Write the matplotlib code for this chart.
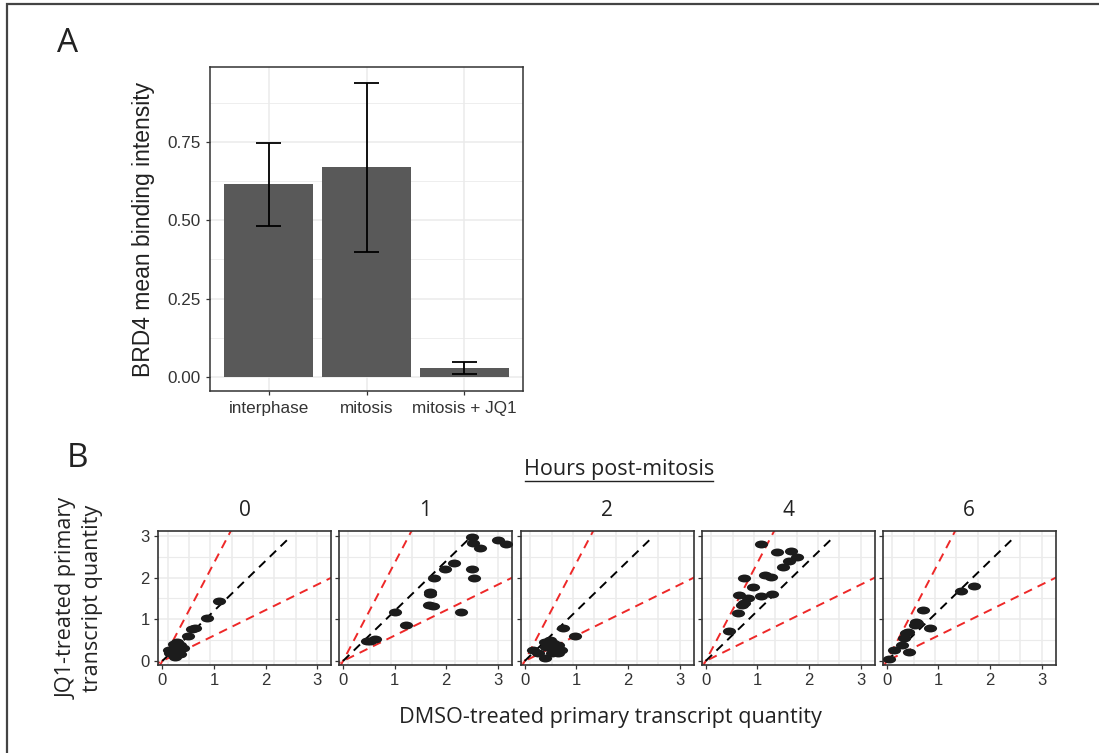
import numpy as np
import matplotlib
matplotlib.use("Agg")
import matplotlib.pyplot as plt
from matplotlib.path import Path
from matplotlib.lines import Line2D
from matplotlib.patches import Rectangle

# ---------------- data ----------------
# Panel A
conditions = ["interphase", "mitosis", "mitosis + JQ1"]
brd4_mean = [0.617, 0.670, 0.027]
brd4_low = [0.483, 0.400, 0.009]
brd4_high = [0.747, 0.941, 0.046]
a_yticks = [0.00, 0.25, 0.50, 0.75]

# Panel B: DMSO (x) vs JQ1 (y) per hour post-mitosis
hours = ["0", "1", "2", "4", "6"]
dmso_h0 = [1.09, 0.87, 0.64, 0.57, 0.50, 0.34, 0.25, 0.18, 0.15, 0.34, 0.25, 0.28, 0.12, 0.22, 0.40]
jq1_h0 = [1.44, 1.03, 0.78, 0.76, 0.60, 0.38, 0.34, 0.26, 0.18, 0.17, 0.10, 0.46, 0.26, 0.40, 0.30]
dmso_h1 = [2.50, 2.51, 2.66, 3.00, 3.16, 2.16, 1.98, 2.50, 2.53, 1.77, 1.69, 1.69, 1.66, 1.75, 2.29, 1.00, 1.22, 0.52, 0.62, 0.47]
jq1_h1 = [2.98, 2.82, 2.70, 2.90, 2.81, 2.36, 2.20, 2.20, 2.00, 2.00, 1.66, 1.60, 1.34, 1.32, 1.17, 1.17, 0.86, 0.49, 0.52, 0.48]
dmso_h2 = [0.75, 0.97, 0.39, 0.49, 0.55, 0.65, 0.71, 0.65, 0.52, 0.16, 0.26, 0.40, 0.58, 0.42]
jq1_h2 = [0.78, 0.60, 0.46, 0.51, 0.42, 0.38, 0.26, 0.18, 0.18, 0.26, 0.18, 0.08, 0.28, 0.33]
dmso_h4 = [1.08, 1.39, 1.66, 1.76, 1.62, 1.50, 1.15, 1.27, 0.74, 0.92, 0.65, 0.81, 1.07, 1.29, 0.74, 0.71, 0.63, 0.45]
jq1_h4 = [2.81, 2.62, 2.64, 2.49, 2.40, 2.26, 2.06, 2.01, 2.00, 1.77, 1.58, 1.50, 1.56, 1.60, 1.40, 1.34, 1.14, 0.72]
dmso_h6 = [1.70, 1.44, 0.71, 0.56, 0.54, 0.58, 0.83, 0.38, 0.34, 0.30, 0.43, 0.15, 0.05, 0.41]
jq1_h6 = [1.80, 1.68, 1.22, 0.94, 0.86, 0.90, 0.80, 0.66, 0.54, 0.38, 0.22, 0.26, 0.05, 0.70]
dmso_all = [dmso_h0, dmso_h1, dmso_h2, dmso_h4, dmso_h6]
jq1_all = [jq1_h0, jq1_h1, jq1_h2, jq1_h4, jq1_h6]

b_ticks = [0, 1, 2, 3]
ref_slope = 1.2          # black dashed identity segment
ref_end = 2.45
fold_slopes = [2.35, 0.61]  # red dashed fold-change lines
x_grid = [0.106, 0.519, 0.933, 1.346, 1.76, 2.173, 2.587, 3.0]
y_grid_major = [0, 1, 2, 3]
y_grid_minor = [0.5, 1.5, 2.5]

# ---------------- layout helpers ----------------
W, H = 1099, 753
fig = plt.figure(figsize=(W / 100, H / 100), dpi=100)


def rect(l, t, r, b):
    return [l / W, 1 - b / H, (r - l) / W, (b - t) / H]


def fpos(x, y):
    return (x / W, 1 - y / H)


GRID = "#EBEBEB"
FRAME = "#333333"
TXT = "#333333"
TICKFONT = "Liberation Sans"
LABFONT = "Open Sans"

# outer frame
fig.patches.append(Rectangle(fpos(7, 1000), 2, (1000 - 3.5) / H, transform=fig.transFigure,
                             fill=False, edgecolor="#444444", linewidth=1.6, clip_on=False))

# ---------------- Panel A ----------------
axA = fig.add_axes(rect(210, 67, 523, 391))
xa = np.arange(1, len(conditions) + 1)
axA.bar(xa, brd4_mean, width=0.91, color="#595959", zorder=2)
axA.vlines(xa, brd4_low, brd4_high, color="black", linewidth=1.3, zorder=3)
axA.hlines(brd4_low, xa - 0.125, xa + 0.125, color="black", linewidth=1.3, zorder=3)
axA.hlines(brd4_high, xa - 0.125, xa + 0.125, color="black", linewidth=1.3, zorder=3)
axA.set_xlim(0.4, 3.6)
axA.set_ylim(-0.046, 0.991)
axA.set_xticks(xa)
axA.set_xticklabels(conditions)
axA.set_yticks(a_yticks)
axA.set_yticklabels([f"{v:.2f}" for v in a_yticks])
axA.set_yticks([0.125, 0.375, 0.625, 0.875], minor=True)
axA.grid(True, which="major", color=GRID, linewidth=1.1, zorder=0)
axA.grid(True, which="minor", axis="y", color=GRID, linewidth=0.6, zorder=0)
axA.set_axisbelow(True)
for s in axA.spines.values():
    s.set_color(FRAME)
    s.set_linewidth(1.1)
axA.tick_params(which="major", length=3, width=0.9, color=FRAME, labelcolor=TXT, labelsize=12.3, pad=4)
axA.tick_params(which="minor", length=0)
for lab in axA.get_xticklabels() + axA.get_yticklabels():
    lab.set_fontfamily(TICKFONT)
axA.set_ylabel("BRD4 mean binding intensity", fontsize=16.5, fontfamily=TICKFONT, color="#222222", labelpad=9)

fig.text(*fpos(57, 52), "A", fontsize=24, fontfamily=LABFONT, color="#222222", ha="left", va="baseline")
fig.text(*fpos(67, 467), "B", fontsize=24, fontfamily=LABFONT, color="#222222", ha="left", va="baseline")

# ---------------- Panel B ----------------
lefts = [158.3, 339, 520.7, 701.7, 882.7]
pw = 173
top, bot = 531, 664.5
ellipse = Path(Path.unit_circle().vertices * np.array([1.0, 0.6]), Path.unit_circle().codes)

for i, (h, xd, yd) in enumerate(zip(hours, dmso_all, jq1_all)):
    ax = fig.add_axes(rect(lefts[i], top, lefts[i] + pw, bot))
    ax.set_xlim(-0.078, 3.275)
    ax.set_ylim(-0.084, 3.118)
    for g in x_grid:
        ax.axvline(g, color=GRID, linewidth=1.1, zorder=0)
    for g in y_grid_major:
        ax.axhline(g, color=GRID, linewidth=1.1, zorder=0)
    for g in y_grid_minor:
        ax.axhline(g, color=GRID, linewidth=0.8, zorder=0)
    xs = np.array([-0.2, 3.5])
    for s in fold_slopes:
        ax.plot(xs, s * xs, color="#EE2828", linestyle=(0, (4.5, 3.2)), linewidth=1.4, zorder=2)
    ax.plot([0, ref_end], [0, ref_slope * ref_end], color="black", linestyle=(0, (4.5, 3.2)),
            linewidth=1.4, zorder=2)
    ax.scatter(xd, yd, marker=ellipse, s=90, color="#1c1c1c", linewidths=0, zorder=3)
    ax.set_xticks(b_ticks)
    ax.set_yticks(b_ticks)
    ax.set_xticklabels([str(t) for t in b_ticks])
    if i == 0:
        ax.set_yticklabels([str(t) for t in b_ticks])
    else:
        ax.tick_params(axis="y", length=0, labelleft=False)
    for s in ax.spines.values():
        s.set_color(FRAME)
        s.set_linewidth(1.2)
    ax.tick_params(length=3, width=0.9, color=FRAME, labelcolor=TXT, labelsize=12, pad=3)
    for lab in ax.get_xticklabels() + ax.get_yticklabels():
        lab.set_fontfamily(TICKFONT)
    fig.text(*fpos(lefts[i] + pw / 2, 511), h, fontsize=15, fontfamily=LABFONT, color="#222222",
             ha="center", va="center")

fig.text(*fpos(619, 469), "Hours post-mitosis", fontsize=15.5, fontfamily=LABFONT, color="#222222",
         ha="center", va="center")
fig.add_artist(Line2D([525 / W, 713 / W], [1 - 481 / H, 1 - 481 / H], transform=fig.transFigure,
                      color="#222222", linewidth=1.0))
fig.text(*fpos(610, 718), "DMSO-treated primary transcript quantity", fontsize=15.6, fontfamily=LABFONT,
         color="#222222", ha="center", va="center")
fig.text(*fpos(80, 598), "JQ1-treated primary\ntranscript quantity", fontsize=15.6, fontfamily=LABFONT,
         color="#222222", ha="center", va="center", rotation=90, multialignment="center", linespacing=1.25)

fig.savefig("out.png", dpi=100)
